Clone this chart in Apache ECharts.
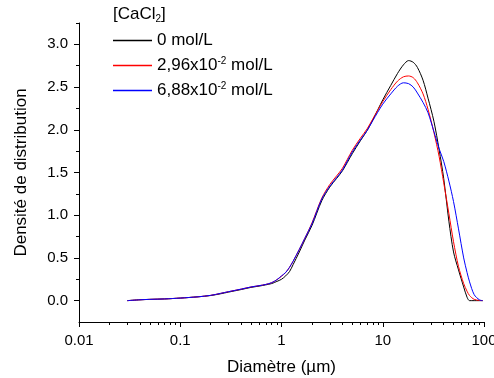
<!DOCTYPE html>
<html><head><meta charset="utf-8">
<script src="https://cdn.jsdelivr.net/npm/echarts@6/dist/echarts.min.js"></script>
<style>html,body{margin:0;padding:0;background:#fff}#c{width:494px;height:378px}</style>
</head><body><div id="c"></div>
<script>
const diam = [0.03,0.04,0.05,0.07,0.1,0.15,0.2,0.25,0.3,0.4,0.5,0.6,0.7,0.8,0.9,1.0,1.1,1.2,1.3,1.5,1.7,2.0,2.5,3.0,3.5,4,5,6,7,8,10,12,14,16,18,20,22,25,28,32,36,40,45,50,56,63,68,72,80,90,97];
const dens0 = [0.000,0.010,0.015,0.020,0.030,0.045,0.060,0.080,0.100,0.130,0.155,0.170,0.185,0.200,0.225,0.250,0.290,0.340,0.420,0.570,0.710,0.880,1.170,1.330,1.430,1.520,1.720,1.870,1.990,2.120,2.350,2.520,2.660,2.760,2.810,2.790,2.730,2.580,2.370,2.100,1.770,1.430,0.930,0.570,0.360,0.160,0.040,0.000,0.000,0.000,0.000];
const dens296 = [0.000,0.010,0.015,0.020,0.030,0.045,0.062,0.085,0.105,0.135,0.160,0.175,0.190,0.210,0.245,0.285,0.330,0.390,0.460,0.600,0.730,0.910,1.200,1.360,1.460,1.550,1.760,1.900,2.010,2.130,2.330,2.470,2.570,2.620,2.630,2.610,2.550,2.420,2.240,1.970,1.690,1.380,1.020,0.690,0.400,0.200,0.110,0.060,0.015,0.003,0.000];
const dens688 = [0.000,0.010,0.015,0.020,0.030,0.045,0.062,0.085,0.105,0.135,0.160,0.175,0.190,0.210,0.245,0.290,0.330,0.390,0.460,0.600,0.730,0.900,1.190,1.340,1.440,1.530,1.740,1.880,1.990,2.110,2.300,2.420,2.510,2.550,2.540,2.500,2.430,2.320,2.200,1.980,1.780,1.630,1.400,1.160,0.840,0.500,0.330,0.220,0.070,0.010,0.000];
const seriesNames = ['0 mol/L', '2,96x10{sup|-2} mol/L', '6,88x10{sup|-2} mol/L'];
const seriesColors = ['#000000', '#ff0000', '#0000ff'];
const xMajor = [0.01, 0.1, 1, 10, 100];
const xMinor = [];
for (let d = 0.01; d < 99; d *= 10) { for (let k = 2; k <= 9; k++) xMinor.push(+(k * d).toPrecision(3)); }
const yMajor = [0, 0.5, 1.0, 1.5, 2.0, 2.5, 3.0];
const yMinor = [0.25, 0.75, 1.25, 1.75, 2.25, 2.75, 3.25];

const font = 'Liberation Sans, Arial, Helvetica, sans-serif';
const allY = [dens0, dens296, dens688];
const chart = echarts.init(document.getElementById('c'), null, {renderer: 'canvas'});
const gridBox = {left: 79, right: 10, top: 23, bottom: 56, outerBoundsMode: 'none', containLabel: false};
chart.setOption({
  animation: false,
  color: seriesColors,
  title: {
    text: '[CaCl{sub|2}]', left: 113, top: 4, padding: 0,
    textStyle: {fontFamily: font, fontSize: 17, fontWeight: 'normal', color: '#000',
      rich: {sub: {fontFamily: font, fontSize: 10, padding: [10, 0, 0, 0], color: '#000'}}}
  },
  legend: {
    orient: 'vertical', left: 113, top: 32, padding: 0, itemWidth: 39, itemHeight: 14, itemGap: 7,
    icon: 'path://M0,0 H39 V1.4 H0 Z',
    itemStyle: {borderWidth: 0},
    data: seriesNames.map((n, i) => ({name: n, itemStyle: {color: seriesColors[i], borderWidth: 0}})),
    textStyle: {fontFamily: font, fontSize: 17, color: '#000', lineHeight: 17,
      rich: {sup: {fontFamily: font, fontSize: 10, padding: [0, 0, 9, 0], color: '#000'}}}
  },
  grid: [Object.assign({}, gridBox), Object.assign({}, gridBox)],
  xAxis: [{
    type: 'log', logBase: 10, min: 0.01, max: 100, gridIndex: 0,
    name: 'Diamètre (µm)', nameLocation: 'middle', nameGap: 37,
    nameTextStyle: {fontFamily: font, fontSize: 17, color: '#000'},
    axisLine: {show: true, onZero: false, lineStyle: {color: '#000', width: 1}},
    axisTick: {show: true, length: 5, inside: false, customValues: xMajor, lineStyle: {color: '#000', width: 1}},
    axisLabel: {fontFamily: font, fontSize: 15, color: '#000', margin: 11, customValues: xMajor,
      hideOverlap: false, formatter: v => String(v)},
    splitLine: {show: false}
  }, {
    type: 'log', logBase: 10, min: 0.01, max: 100, gridIndex: 1, position: 'bottom',
    axisLine: {show: false, onZero: false},
    axisTick: {show: true, length: 3, customValues: xMinor, lineStyle: {color: '#000', width: 1}},
    axisLabel: {show: false}, splitLine: {show: false}
  }],
  yAxis: [{
    type: 'value', min: -0.25, max: 3.25, gridIndex: 0,
    name: 'Densité de distribution', nameLocation: 'middle', nameGap: 49,
    nameTextStyle: {fontFamily: font, fontSize: 17, color: '#000'},
    axisLine: {show: true, onZero: false, lineStyle: {color: '#000', width: 1}},
    axisTick: {show: true, length: 5, customValues: yMajor, lineStyle: {color: '#000', width: 1}},
    axisLabel: {fontFamily: font, fontSize: 15, color: '#000', margin: 11, customValues: yMajor,
      formatter: v => v.toFixed(1)},
    splitLine: {show: false}
  }, {
    type: 'value', min: -0.25, max: 3.25, gridIndex: 1, position: 'left',
    axisLine: {show: false, onZero: false},
    axisTick: {show: true, length: 3, customValues: yMinor, lineStyle: {color: '#000', width: 1}},
    axisLabel: {show: false}, splitLine: {show: false}
  }],
  series: allY.map((ys, i) => ({
    name: seriesNames[i], type: 'line', xAxisIndex: 0, yAxisIndex: 0,
    data: diam.map((x, j) => [x, ys[j]]),
    symbol: 'none', smooth: 0.3,
    lineStyle: {color: seriesColors[i], width: 1}, itemStyle: {color: seriesColors[i]}
  }))
});
</script></body></html>
